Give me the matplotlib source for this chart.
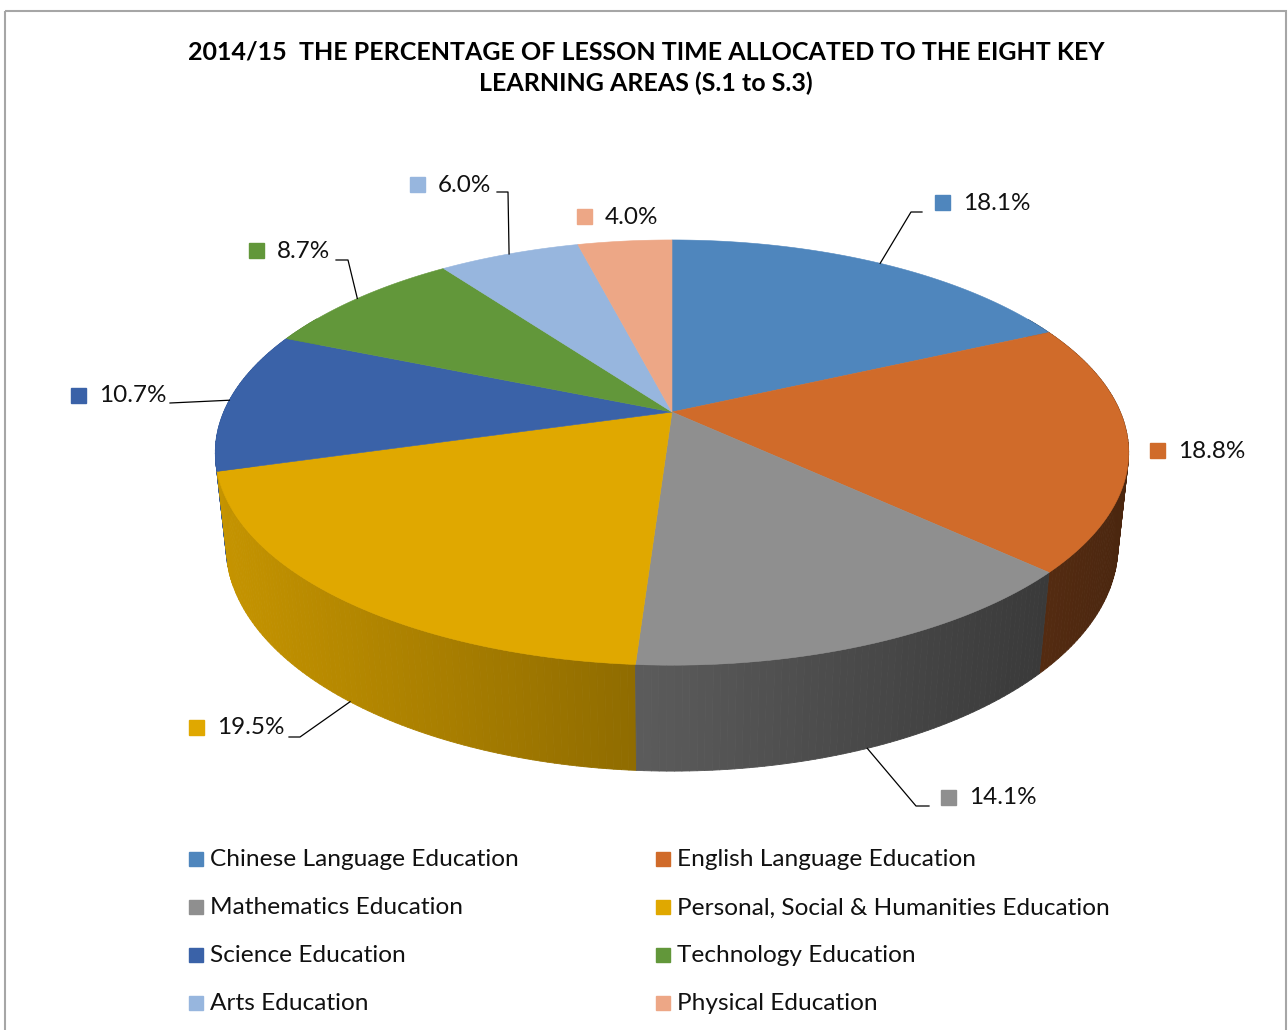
import numpy as np
import matplotlib.pyplot as plt
from matplotlib.collections import PolyCollection
from matplotlib.patches import Rectangle

plt.rcParams['font.family'] = ['Lato', 'DejaVu Sans']

# Data
categories = ['Chinese Language Education', 'English Language Education',
              'Mathematics Education', 'Personal, Social & Humanities Education',
              'Science Education', 'Technology Education',
              'Arts Education', 'Physical Education']
shares = [18.1, 18.8, 14.1, 19.5, 10.7, 8.7, 6.0, 4.0]
colors = ['#4F86BD', '#D06B2A', '#8F8F8F', '#E0A800',
          '#3A62A8', '#62973A', '#97B6DE', '#EDA786']
title = '2014/15  THE PERCENTAGE OF LESSON TIME ALLOCATED TO THE EIGHT KEY\nLEARNING AREAS (S.1 to S.3)'

# label layout (pixel positions of the small squares) and leader line bends
label_pos = [(943, 202), (1158, 450), (949, 797), (197, 727),
             (79, 395), (257, 250), (418, 184), (585, 216)]
leaders = [[(911, 212), (922, 212)], [], [(916, 806), (929, 806)],
           [(300, 737), (289, 737)], [(170, 403)],
           [(348, 260), (336, 260)], [(508, 192), (497, 192)], []]

# perspective of the tilted pie (pixel units)
CX, CY = 672, 412
DIST, FOC, DEPTH = 4.66, 2089, 0.236
SIN_E, COS_E = 0.457, 0.889


def project(theta, z=0.0, r=1.0):
    t = np.radians(theta)
    x = r * np.sin(t)
    y = r * np.cos(t)
    d = DIST + y * COS_E - z * SIN_E
    return CX + x * FOC / d, CY - (y * SIN_E + z * COS_E) * FOC / d


def shade(color, k):
    rgb = np.array(plt.matplotlib.colors.to_rgb(color))
    return tuple(np.clip(rgb * k, 0, 1))


fig = plt.figure(figsize=(12.88, 10.30), dpi=100)
ax = fig.add_axes([0, 0, 1, 1])
ax.set_xlim(0, 1288)
ax.set_ylim(1030, 0)
ax.axis('off')

total = sum(shares)
bounds = np.concatenate([[0], np.cumsum(shares)]) / total * 360

# outer wall, drawn far to near
strips = []
for i in range(len(shares)):
    a0, a1 = bounds[i], bounds[i + 1]
    n = max(2, int((a1 - a0) / 0.8))
    ts = np.linspace(a0, a1, n + 1)
    for t0, t1 in zip(ts[:-1], ts[1:]):
        tm = (t0 + t1) / 2
        if tm < 60 or tm > 300:
            continue
        x0, y0 = project(t0)
        x1, y1 = project(t1)
        x2, y2 = project(t1, -DEPTH)
        x3, y3 = project(t0, -DEPTH)
        un = ((x0 + x1) / 2 - CX) / 453
        k = 0.62 - 0.26 * un
        strips.append((np.cos(np.radians(tm)),
                       [(x0, y0), (x1, y1), (x2, y2), (x3, y3)],
                       shade(colors[i], k)))
strips.sort(key=lambda s: -s[0])
ax.add_collection(PolyCollection([s[1] for s in strips],
                                 facecolors=[s[2] for s in strips],
                                 edgecolors=[s[2] for s in strips],
                                 linewidths=0.6))

# top face
tops = []
for i in range(len(shares)):
    ts = np.linspace(bounds[i], bounds[i + 1], 120)
    xs, ys = project(ts)
    tops.append([(CX, CY)] + list(zip(xs, ys)))
ax.add_collection(PolyCollection(tops, facecolors=colors, edgecolors=colors,
                                 linewidths=0.4))

# data labels with leader lines
for i, v in enumerate(shares):
    mid = (bounds[i] + bounds[i + 1]) / 2
    mx, my = label_pos[i]
    ax.add_patch(Rectangle((mx - 7.5, my - 7.5), 15, 15, color=colors[i]))
    ax.text(mx + 20, my + 1, f'{v:.1f}%', fontsize=17.5, va='center', ha='left',
            color='#111111')
    if leaders[i]:
        z = -DEPTH if 90 < mid < 270 else 0.0
        sx, sy = project(mid, z)
        pts = [(sx, sy)] + leaders[i]
        ax.plot([p[0] for p in pts], [p[1] for p in pts], color='black', lw=0.9)

# legend
for i, name in enumerate(categories):
    col, row = i % 2, i // 2
    lx = 196 if col == 0 else 663
    ly = 859 + row * 48
    ax.add_patch(Rectangle((lx - 7, ly - 7), 14, 14, color=colors[i]))
    ax.text(lx + 14, ly + 1, name, fontsize=17.6, va='center', ha='left',
            color='#111111')

ax.text(646, 68, title, fontsize=18, fontweight='bold', ha='center',
        va='center', linespacing=1.4)

# chart frame
ax.add_patch(Rectangle((5, 11), 1281, 1040, fill=False, edgecolor='#A6A6A6',
                       lw=1.5, clip_on=False))

fig.savefig('out.png', dpi=100)
